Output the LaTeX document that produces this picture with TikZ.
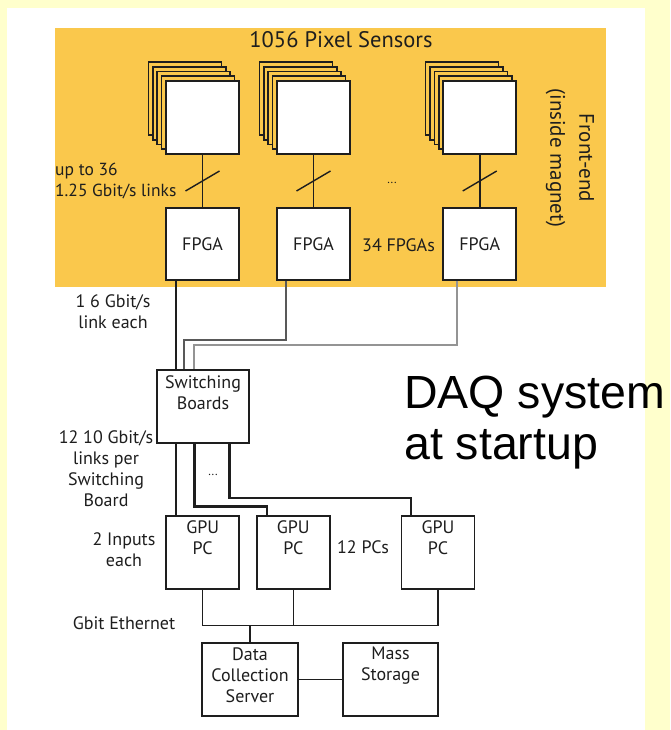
\documentclass[tikz,border=0pt]{standalone}
\usepackage{fontspec}
\setmainfont{PT Sans}
\newfontfamily\arialfont{Liberation Sans}
\usetikzlibrary{calc}
\definecolor{bgyel}{HTML}{FFFFCC}
\definecolor{feor}{HTML}{FAC84C}
\definecolor{ink}{HTML}{1E1E1E}
\begin{document}
\begin{tikzpicture}[x=1pt,y=-1pt,
  box/.style={draw=ink,line width=1.6pt,fill=white,inner sep=0pt,minimum width=73pt,minimum height=73pt},
  backlayer/.style={draw=ink,line width=1.6pt,fill=feor},
  lbl/.style={font=\fontsize{18}{21}\selectfont,text=ink,inner sep=0pt,align=center},
  wire/.style={draw=ink,line width=1.3pt},
  thickwire/.style={draw=ink,line width=2.4pt},
  graywire/.style={draw=black!65,line width=2.1pt},
  lgraywire/.style={draw=black!42,line width=2.1pt},
  slash/.style={draw=ink,line width=1.4pt}]
\useasboundingbox (0,0) rectangle (670,730);
\fill[bgyel] (0,0) rectangle (670,730);
\fill[white] (7,8) rectangle (645,730);
\fill[feor] (55,28) rectangle (606,287);

\node[lbl,font=\fontsize{22.5}{26}\selectfont] (title) at (341,40) {1056 Pixel Sensors};

% sensor stacks (back layers)
\foreach \cx in {202.5,313.5,479.7}{
  \foreach \k in {4,3,2,1}{
    \draw[backlayer] ({\cx-36.5-4.4*\k},{81-4.7*\k}) rectangle ({\cx+36.5-4.4*\k},{154-4.7*\k});
  }
}
\node[box] (s1) at (202.5,117.5) {};
\node[box] (s2) at (313.5,117.5) {};
\node[box] (s3) at (479.7,117.5) {};

% FPGAs
\node[box,minimum height=72pt] (fp1) at (202.5,244) {};
\node[box,minimum height=72pt] (fp2) at (313.5,244) {};
\node[box,minimum height=72pt] (fp3) at (479.7,244) {};
\node[lbl] at (fp1.center) {FPGA};
\node[lbl] at (fp2.center) {FPGA};
\node[lbl] at (fp3.center) {FPGA};

\draw[wire] (s1.south) -- (fp1.north);
\draw[wire] (s2.south) -- (fp2.north);
\draw[thickwire] (s3.south) -- (fp3.north);
\draw[slash] ($(s1.south)!0.5!(fp1.north)$) ++(-17,10) -- ++(34,-20);
\draw[slash] ($(s2.south)!0.5!(fp2.north)$) ++(-17,10) -- ++(34,-20);
\draw[slash] ($(s3.south)!0.5!(fp3.north)$) ++(-17,10) -- ++(34,-20);

\node[lbl,align=left,anchor=west,font=\fontsize{17.5}{21}\selectfont] (upto) at (55,181) {up to 36\\1.25 Gbit/s links};
\node[lbl,font=\fontsize{12}{14}\selectfont] (dots1) at (392,183) {...};
\node[lbl] (nfpga) at (398.5,245) {34 FPGAs};
\node[lbl,rotate=-90,font=\fontsize{21}{29}\selectfont] (fe) at (570,158) {Front-end\\(inside magnet)};

% switching boards
\node[box,minimum width=92pt,minimum height=73pt] (sw) at (203,406.5) {};
\node[lbl] (swt) at (203,393) {Switching\\Boards};

\draw[wire] ([xshift=-26.5pt]fp1.south) -- ([xshift=-26.5pt]fp1.south |- sw.north);
\draw[graywire] ([xshift=-27.5pt]fp2.south) -- ++(0,59.5) -| ([xshift=-18.7pt]sw.north);
\draw[lgraywire] ([xshift=-22.7pt]fp3.south) -- ++(0,64.5) -| ([xshift=-8.7pt]sw.north);

\node[lbl] (l16) at (113,312) {1 6 Gbit/s\\link each};

% GPU PCs
\node[box,minimum height=73.5pt] (g1) at (202.7,552.5) {};
\node[box,minimum height=73.5pt] (g2) at (293.3,552.5) {};
\node[box,minimum height=73.5pt] (g3) at (438,552.5) {};
\node[lbl] at (202.7,538) {GPU\\PC};
\node[lbl] at (293.3,538) {GPU\\PC};
\node[lbl] at (438,538) {GPU\\PC};

\draw[wire] ([xshift=-27pt]sw.south) -- ([xshift=-27pt]sw.south |- g1.north);
\draw[thickwire] ([xshift=-8.7pt]sw.south) -- ++(0,62.7) -| ([xshift=-26.6pt]g2.north);
\draw[thickwire] ([xshift=26.3pt]sw.south) -- ++(0,54.3) -| ([xshift=-27.3pt]g3.north);
\node[lbl,font=\fontsize{12}{14}\selectfont] (dots2) at (213,475) {...};

\node[lbl] (l12) at (106,468.5) {12 10 Gbit/s\\links per\\Switching\\Board};
\node[lbl] (l2in) at (124,550) {2 Inputs\\each};
\node[lbl] (l12pc) at (363,547) {12 PCs};

% data collection
\node[box,minimum width=96pt,minimum height=73pt] (dcs) at (250,679.2) {};
\node[box,minimum width=95pt,minimum height=73pt] (ms) at (390.5,679.2) {};
\node[lbl] at (250,675) {Data\\Collection\\Server};
\node[lbl] at (390.5,666) {Mass\\Storage};

\draw[wire] (g1.south) -- ++(0,35.5) coordinate (busl) -| (g3.south);
\draw[thickwire] (g3.south) -- ++(0,35.5);
\draw[wire] (g2.south) -- (g2.south |- busl);
\draw[wire] (dcs.north) -- (dcs.north |- busl);
\draw[wire] (dcs.east) -- (ms.west);

\node[lbl] (geth) at (124,623) {Gbit Ethernet};

% caption
\node[anchor=base west,inner sep=0pt,font=\arialfont\fontsize{46.5}{51}\selectfont] (daq1) at (404,408) {DAQ system};
\node[anchor=base west,inner sep=0pt,font=\arialfont\fontsize{46.5}{51}\selectfont] (daq2) at (404,459) {at startup};
\end{tikzpicture}
\end{document}
